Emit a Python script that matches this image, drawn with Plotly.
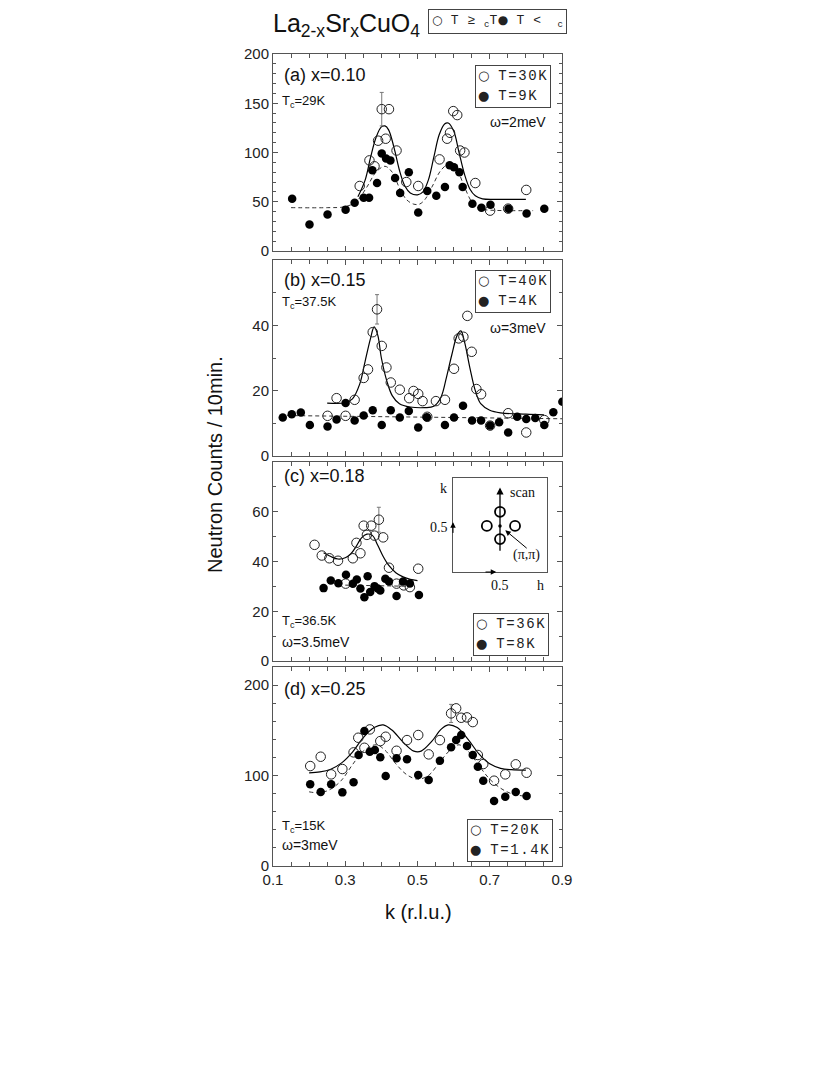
import plotly.graph_objects as go

# ---- Daten ----
# (a) x=0.10
k_a_30K = [0.340, 0.367, 0.381, 0.391, 0.401, 0.412, 0.421, 0.442, 0.469, 0.502, 0.561, 0.582,
           0.590, 0.599, 0.610, 0.618, 0.630, 0.660, 0.701, 0.751, 0.801]
n_a_30K = [66, 92, 86, 112, 144, 114, 144, 102, 70, 66, 93, 114, 120, 142, 138, 102, 100, 69, 41, 43, 62]
e_a_30K = [None, None, None, None, 17] + [None] * 16
k_a_9K = [0.153, 0.201, 0.251, 0.301, 0.326, 0.351, 0.366, 0.375, 0.388, 0.401, 0.413, 0.425, 0.438,
          0.452, 0.476, 0.502, 0.527, 0.552, 0.576, 0.589, 0.601, 0.616, 0.625, 0.652, 0.677, 0.702,
          0.752, 0.802, 0.851]
n_a_9K = [53, 27, 37, 42, 49, 54, 54, 82, 69, 99, 94, 92, 74, 59, 80, 39, 61, 56, 65, 87, 85, 80, 65,
          48, 44, 47, 43, 38, 43]
k_a_fit_hi = [0.335, 0.355, 0.37, 0.385, 0.40, 0.41, 0.42, 0.435, 0.45, 0.465, 0.48, 0.50, 0.515, 0.53,
              0.545, 0.56, 0.575, 0.585, 0.60, 0.615, 0.63, 0.645, 0.66, 0.68, 0.72, 0.80]
n_a_fit_hi = [55, 72, 95, 115, 126, 127, 123, 105, 82, 66, 59, 57, 60, 72, 95, 118, 129, 130, 122, 100,
              78, 63, 56, 53, 52.5, 52.5]
k_a_fit_lo = [0.15, 0.25, 0.30, 0.33, 0.36, 0.385, 0.41, 0.43, 0.45, 0.47, 0.49, 0.505, 0.52, 0.54,
              0.565, 0.59, 0.61, 0.63, 0.65, 0.67, 0.70, 0.75, 0.82]
n_a_fit_lo = [44, 44, 45, 50, 65, 80, 86, 80, 64, 52, 47.5, 47.5, 52, 65, 82, 89, 82, 65, 50, 43, 41.5,
              41, 41]

# (b) x=0.15
k_b_40K = [0.251, 0.276, 0.301, 0.326, 0.351, 0.363, 0.376, 0.388, 0.401, 0.414, 0.426, 0.451, 0.477,
           0.489, 0.502, 0.514, 0.527, 0.551, 0.576, 0.601, 0.614, 0.627, 0.638, 0.650, 0.663, 0.676,
           0.701, 0.751, 0.801, 0.851]
n_b_40K = [12.3, 17.7, 12.3, 17.2, 23.9, 26.5, 37.9, 44.9, 33.7, 27.1, 22.5, 20.3, 17.7, 19.9, 19.0,
           16.8, 12.0, 16.8, 17.2, 26.7, 36.0, 36.5, 42.9, 31.9, 20.5, 18.9, 9.3, 13.1, 7.2, 11.0]
e_b_40K = [None] * 7 + [4.5] + [None] * 22
k_b_4K = [0.127, 0.152, 0.177, 0.202, 0.251, 0.276, 0.301, 0.326, 0.351, 0.376, 0.401, 0.426, 0.451,
          0.476, 0.502, 0.526, 0.576, 0.601, 0.626, 0.651, 0.676, 0.701, 0.726, 0.751, 0.776, 0.801,
          0.826, 0.851, 0.876, 0.901]
n_b_4K = [11.8, 12.8, 13.3, 9.5, 9.0, 11.2, 16.2, 10.9, 12.4, 14.0, 9.5, 14.0, 11.8, 13.8, 8.7, 11.9,
          9.5, 11.8, 15.4, 10.9, 10.9, 9.3, 10.3, 7.2, 12.0, 11.3, 11.6, 9.5, 13.4, 16.6]
k_b_fit_hi = [0.25, 0.30, 0.32, 0.34, 0.355, 0.37, 0.38, 0.39, 0.40, 0.415, 0.43, 0.45, 0.48, 0.52,
              0.545, 0.565, 0.58, 0.595, 0.61, 0.62, 0.63, 0.645, 0.66, 0.675, 0.70, 0.73, 0.80, 0.85]
n_b_fit_hi = [16.2, 16.3, 17.5, 22, 29, 36, 39.5, 37, 30, 23, 18.5, 16, 15, 14.8, 15.2, 18, 24, 31, 37,
              38.3, 35, 27, 20, 16, 14, 13.2, 12.8, 12.6]
k_b_fit_lo = [0.12, 0.90]
n_b_fit_lo = [12.4, 11.4]

# (c) x=0.18
k_c_36K = [0.215, 0.235, 0.256, 0.280, 0.301, 0.321, 0.331, 0.342, 0.351, 0.360, 0.372, 0.381, 0.393,
           0.405, 0.421, 0.442, 0.462, 0.479, 0.502]
n_c_36K = [46.7, 42.4, 41.3, 40.3, 31.1, 41.3, 47.5, 43.3, 54.4, 50.7, 54.4, 50.4, 56.8, 49.7, 37.5,
           31.1, 30.4, 29.7, 37.1]
e_c_36K = [None] * 12 + [5] + [None] * 6
k_c_8K = [0.240, 0.260, 0.281, 0.302, 0.321, 0.332, 0.342, 0.353, 0.362, 0.369, 0.381, 0.390, 0.397,
          0.411, 0.421, 0.442, 0.460, 0.479, 0.504]
n_c_8K = [29.3, 32.4, 31.3, 34.7, 31.1, 32.8, 29.1, 25.6, 34.1, 27.7, 30.1, 29.1, 28.3, 33.1, 32.0,
          26.1, 32.0, 31.2, 26.5]
k_c_fit_hi = [0.24, 0.26, 0.28, 0.30, 0.315, 0.33, 0.345, 0.36, 0.375, 0.39, 0.405, 0.42, 0.44, 0.46,
              0.48, 0.50]
n_c_fit_hi = [43.5, 42, 41, 41.5, 43, 46, 49.5, 51, 50.5, 46.5, 42, 38.5, 35.5, 33.8, 32.8, 32.3]
k_c_fit_lo = [0.30, 0.49]
n_c_fit_lo = [30.5, 30.0]

# Skizze im Inset (h, k)
h_peaks = [0.5, 0.36, 0.66, 0.5]
k_peaks = [0.64, 0.49, 0.49, 0.35]
h_center = [0.5]
k_center = [0.49]

# (d) x=0.25
k_d_20K = [0.203, 0.232, 0.261, 0.292, 0.323, 0.336, 0.353, 0.368, 0.397, 0.412, 0.442, 0.471, 0.502,
           0.531, 0.562, 0.593, 0.607, 0.621, 0.637, 0.653, 0.667, 0.682, 0.712, 0.743, 0.772, 0.802]
n_d_20K = [110.5, 120.8, 101.3, 107.2, 125.6, 141.8, 130.7, 151, 138.1, 142.9, 127.4, 139.2, 144.8,
           123.4, 139.2, 168.7, 174.3, 163.9, 164.3, 159.1, 122.7, 112.7, 94.3, 101.3, 112.4, 103.1]
e_d_20K = [None] * 15 + [10] + [None] * 10
k_d_14K = [0.203, 0.232, 0.261, 0.292, 0.323, 0.337, 0.353, 0.368, 0.382, 0.397, 0.412, 0.442, 0.471,
           0.502, 0.531, 0.562, 0.593, 0.607, 0.621, 0.637, 0.653, 0.667, 0.682, 0.712, 0.743, 0.772,
           0.802]
n_d_14K = [90.3, 81.8, 90.3, 81.4, 92.5, 122.7, 149.2, 126.3, 128.2, 120.1, 99.5, 119, 117.9, 100.6,
           95, 116.4, 131.2, 139.2, 144.8, 132.6, 122.7, 109.7, 94.3, 71.8, 76.6, 81.8, 77.4]
k_d_fit_hi = [0.20, 0.23, 0.26, 0.29, 0.32, 0.35, 0.38, 0.405, 0.43, 0.46, 0.49, 0.51, 0.54, 0.565,
              0.585, 0.61, 0.64, 0.67, 0.70, 0.73, 0.76, 0.80]
n_d_fit_hi = [103, 104, 107, 114, 126, 142, 153, 156, 150, 137, 127, 127, 138, 151, 156, 153, 140, 124,
              113, 108, 106.5, 106]
k_d_fit_lo = [0.20, 0.23, 0.26, 0.29, 0.32, 0.35, 0.385, 0.41, 0.44, 0.47, 0.50, 0.53, 0.56, 0.59,
              0.615, 0.64, 0.67, 0.70, 0.73, 0.76, 0.80]
n_d_fit_lo = [82, 81, 85, 95, 112, 127, 134, 128, 113, 101, 96, 100, 114, 128, 134, 127, 111, 96, 86,
              80, 77]

W, H = 830, 1075
OFF = 8  # Seitenrand im Browser


def px(X):
    # Pixel (Bildschirm) -> Papier-Koordinate (x)
    return (X - OFF) / W


def py(Y):
    # Pixel (Bildschirm) -> Papier-Koordinate (y)
    return 1 - (Y - OFF) / H


FRAME = "#555555"
SANS = "Liberation Sans, Arial, sans-serif"
MONO = "Liberation Mono, Courier New, monospace"
SERIF = "Liberation Serif, Times New Roman, serif"

fig = go.Figure()


def add_panel(i, k_hi, n_hi, e_hi, k_lo, n_lo, kf_hi, nf_hi, kf_lo, nf_lo):
    xa = "x" if i == 1 else "x%d" % i
    ya = "y" if i == 1 else "y%d" % i
    # Fitkurven
    fig.add_trace(go.Scatter(x=kf_lo, y=nf_lo, mode="lines", xaxis=xa, yaxis=ya,
                             line=dict(color="#333333", width=1, dash="4px,3px", shape="spline"),
                             showlegend=False))
    fig.add_trace(go.Scatter(x=kf_hi, y=nf_hi, mode="lines", xaxis=xa, yaxis=ya,
                             line=dict(color="black", width=1.2, shape="spline"),
                             showlegend=False))
    # Fehlerbalken nur am markierten Punkt
    ke = [k for k, e in zip(k_hi, e_hi) if e is not None]
    ne = [n for n, e in zip(n_hi, e_hi) if e is not None]
    ee = [e for e in e_hi if e is not None]
    fig.add_trace(go.Scatter(x=ke, y=ne, mode="markers", xaxis=xa, yaxis=ya,
                             marker=dict(size=1, color="rgba(0,0,0,0)"),
                             error_y=dict(type="data", array=ee, color="#777777",
                                          thickness=1, width=2),
                             showlegend=False))
    # Messpunkte
    fig.add_trace(go.Scatter(x=k_hi, y=n_hi, mode="markers", xaxis=xa, yaxis=ya,
                             marker=dict(symbol="circle-open", size=9.5, color="#222222",
                                         line=dict(width=1)),
                             showlegend=False))
    fig.add_trace(go.Scatter(x=k_lo, y=n_lo, mode="markers", xaxis=xa, yaxis=ya,
                             marker=dict(symbol="circle", size=8.5, color="black"),
                             showlegend=False))


add_panel(1, k_a_30K, n_a_30K, e_a_30K, k_a_9K, n_a_9K, k_a_fit_hi, n_a_fit_hi, k_a_fit_lo, n_a_fit_lo)
add_panel(2, k_b_40K, n_b_40K, e_b_40K, k_b_4K, n_b_4K, k_b_fit_hi, n_b_fit_hi, k_b_fit_lo, n_b_fit_lo)
add_panel(3, k_c_36K, n_c_36K, e_c_36K, k_c_8K, n_c_8K, k_c_fit_hi, n_c_fit_hi, k_c_fit_lo, n_c_fit_lo)
add_panel(4, k_d_20K, n_d_20K, e_d_20K, k_d_14K, n_d_14K, k_d_fit_hi, n_d_fit_hi, k_d_fit_lo, n_d_fit_lo)

# Inset: Skizze im reziproken Raum
fig.add_trace(go.Scatter(x=h_peaks, y=k_peaks, mode="markers", xaxis="x5", yaxis="y5",
                         marker=dict(symbol="circle-open", size=10, color="black", line=dict(width=1.8)),
                         showlegend=False))
fig.add_trace(go.Scatter(x=h_center, y=k_center, mode="markers", xaxis="x5", yaxis="y5",
                         marker=dict(symbol="circle", size=3.5, color="black"), showlegend=False))

# Achsen
x_dom = [px(273), px(562)]
panel_px = [(54, 251), (260, 456), (462, 661), (667, 866)]
y_ranges = [[0, 200], [0, 60], [0, 80], [0, 220]]
y_ticks = [[0, 50, 100, 150, 200], [0, 20, 40], [0, 20, 40, 60], [0, 100, 200]]
y_minor = [10, 10, 10, 20]

layout = dict(width=W, height=H, margin=dict(l=0, r=0, t=0, b=0, autoexpand=False),
              paper_bgcolor="white", plot_bgcolor="white", showlegend=False)
for i in range(4):
    suffix = "" if i == 0 else str(i + 1)
    top, bottom = panel_px[i]
    layout["xaxis" + suffix] = dict(
        domain=x_dom, range=[0.1, 0.9], anchor="y" + suffix, automargin=False,
        showline=True, mirror="ticks", linecolor=FRAME, linewidth=1,
        ticks="inside", ticklen=5, tickcolor=FRAME,
        tickvals=[0.1, 0.3, 0.5, 0.7, 0.9], ticktext=["0.1", "0.3", "0.5", "0.7", "0.9"],
        minor=dict(ticks="inside", ticklen=4, tickcolor=FRAME, tick0=0.1, dtick=0.05),
        showgrid=False, zeroline=False,
        showticklabels=(i == 3), tickfont=dict(family=SANS, size=15, color="#222222"))
    layout["yaxis" + suffix] = dict(
        domain=[py(bottom), py(top)], range=y_ranges[i], anchor="x" + suffix, automargin=False,
        showline=True, mirror="ticks", linecolor=FRAME, linewidth=1,
        ticks="inside", ticklen=5, tickcolor=FRAME, tickvals=y_ticks[i],
        minor=dict(ticks="inside", ticklen=3, tickcolor=FRAME, tick0=0, dtick=y_minor[i]),
        showgrid=False, zeroline=False,
        tickfont=dict(family=SANS, size=15, color="#222222"))

# Inset-Box (Bildschirm-Pixel)
IN_L, IN_R, IN_T, IN_B = 453, 547, 478, 572
layout["xaxis5"] = dict(domain=[px(IN_L), px(IN_R)], range=[0, 1], anchor="y5", automargin=False,
                        showline=True, mirror=True, linecolor=FRAME, linewidth=1,
                        showticklabels=False, ticks="", showgrid=False, zeroline=False)
layout["yaxis5"] = dict(domain=[py(IN_B), py(IN_T)], range=[0, 1], anchor="x5", automargin=False,
                        showline=True, mirror=True, linecolor=FRAME, linewidth=1,
                        showticklabels=False, ticks="", showgrid=False, zeroline=False)
fig.update_layout(**layout)

ann = []


def text(X, Y, s, size=14, family=SANS, xanchor="left", **kw):
    ann.append(dict(x=px(X), y=py(Y), xref="paper", yref="paper", text=s, showarrow=False,
                    xanchor=xanchor, yanchor="middle", font=dict(family=family, size=size,
                                                                 color="#111111"), **kw))


def sym(c, size=13):
    # Kreis-Symbol in passender Groesse
    return '<span style="font-family:DejaVu Sans;font-size:%dpx">%s</span>' % (size, c)


def mono(s, size=14, ls=1.6):
    # Schreibmaschinenschrift, etwas gesperrt wie im Original
    return '<span style="font-size:%dpx;letter-spacing:%.1fpx">%s</span>' % (size, ls, s)


def legend_box(X, Y, t_open, t_full):
    s = sym("○") + " " + mono(t_open) + "<br>" + sym("●") + " " + mono(t_full)
    ann.append(dict(x=px(X), y=py(Y), xref="paper", yref="paper", text=s, showarrow=False,
                    xanchor="left", yanchor="top", align="left",
                    font=dict(family=MONO, size=15, color="#222222"),
                    bordercolor="#444444", borderwidth=1, borderpad=2, bgcolor="white"))


# Titel und Kopf-Legende
text(346, 25, "La<sub>2-x</sub>Sr<sub>x</sub>CuO<sub>4</sub>", size=25, xanchor="center")
ann.append(dict(x=px(428), y=py(9), xref="paper", yref="paper",
                text=sym("○", 12) + mono(" T ≥ ", 13, 0.5) + "<sub>c</sub>" + mono("T", 13, 0.5)
                + sym("●", 12) + mono(" T < ", 13, 0.5) + " <sub>c</sub>",
                showarrow=False,
                xanchor="left", yanchor="top", font=dict(family=MONO, size=13, color="#222222"),
                bordercolor="#444444", borderwidth=1, borderpad=3))

# Panel (a)
text(282, 75, "(a) x=0.10", size=18)
text(280, 102, "T<sub>c</sub>=29K", size=13)
text(548, 122, "ω=2meV", size=14, xanchor="right")
legend_box(475, 65, "T=30K", "T=9K ")
# Panel (b)
text(282, 280, "(b) x=0.15", size=18)
text(280, 303, "T<sub>c</sub>=37.5K", size=13)
text(548, 328, "ω=3meV", size=14, xanchor="right")
legend_box(475, 270, "T=40K", "T=4K ")
# Panel (c)
text(282, 476, "(c) x=0.18", size=18)
text(280, 621, "T<sub>c</sub>=36.5K", size=13)
text(280, 642, "ω=3.5meV", size=14)
legend_box(473, 613, "T=36K", "T=8K ")
# Panel (d)
text(282, 689, "(d) x=0.25", size=18)
text(280, 826, "T<sub>c</sub>=15K", size=13)
text(280, 845, "ω=3meV", size=14)
legend_box(467, 819, "T=20K", "T=1.4K")

# Achsentitel
text(215, 465, "Neutron Counts / 10min.", size=20, xanchor="center", textangle=-90)
text(418, 912, "k (r.l.u.)", size=20, xanchor="center")

# Inset-Beschriftung (ausserhalb der Box -> Papier-Koordinaten)
for xx, yy, s, xa in [(-0.10, 0.89, "k", "center"), (-0.03, 0.47, "0.5", "right"),
                      (0.50, -0.14, "0.5", "center"), (0.93, -0.14, "h", "center"),
                      (0.74, 0.85, "scan", "center"), (0.78, 0.18, "(π,π)", "center")]:
    text(IN_L + xx * (IN_R - IN_L), IN_B - yy * (IN_B - IN_T), s, size=14, family=SERIF,
         xanchor=xa)
# Pfeile im Inset
for hx, hy, tx, ty, w in [(0.5, 0.90, 0.5, 0.21, 1.3), (0.556, 0.444, 0.80, 0.24, 1),
                          (0.0, 0.53, 0.0, 0.40, 1), (0.46, 0.0, 0.33, 0.0, 1)]:
    ann.append(dict(x=hx, y=hy, ax=tx, ay=ty, xref="x5", yref="y5", axref="x5", ayref="y5",
                    text="", showarrow=True, arrowhead=2, arrowsize=1.1, arrowwidth=w,
                    arrowcolor="black", standoff=0))

fig.update_layout(annotations=ann)

if __name__ == "__main__":
    fig.write_html("out.html")
